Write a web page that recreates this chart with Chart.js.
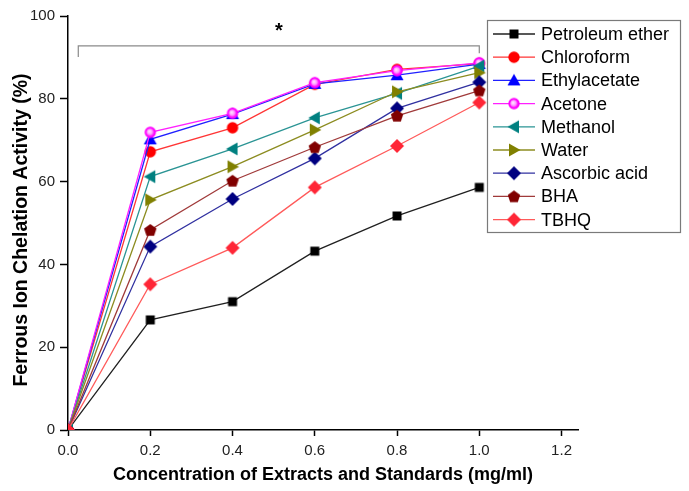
<!DOCTYPE html>
<html>
<head>
<meta charset="utf-8">
<script src="https://cdn.jsdelivr.net/npm/chart.js@4/dist/chart.umd.min.js"></script>
<style>
html, body { margin: 0; padding: 0; background: #fff; }
#wrap { width: 689px; height: 491px; }
</style>
</head>
<body>
<div id="wrap"><canvas id="chart" width="689" height="491"></canvas></div>
<script>
// DATA
const concentrations = [0, 0.2, 0.4, 0.6, 0.8, 1.0];
const seriesNames = ['Petroleum ether', 'Chloroform', 'Ethylacetate', 'Acetone', 'Methanol', 'Water', 'Ascorbic acid', 'BHA', 'TBHQ'];
const petroleumEther = [0, 26.6, 31.0, 43.2, 51.7, 58.6];
const chloroform     = [0, 67.2, 73.0, 83.5, 87.1, 88.5];
const ethylacetate   = [0, 70.2, 76.3, 83.6, 85.7, 88.4];
const acetone        = [0, 71.9, 76.5, 83.9, 86.8, 88.7];
const methanol       = [0, 61.2, 67.9, 75.4, 81.3, 87.9];
const water          = [0, 55.6, 63.6, 72.5, 81.7, 86.3];
const ascorbicAcid   = [0, 44.3, 55.8, 65.6, 77.7, 84.0];
const bha            = [0, 48.3, 60.2, 68.3, 75.9, 82.0];
const tbhq           = [0, 35.2, 44.0, 58.6, 68.6, 79.1];
const seriesValues = [petroleumEther, chloroform, ethylacetate, acetone, methanol, water, ascorbicAcid, bha, tbhq];
const xTickStep = 0.2;
const yTickStep = 20;
const xTitle = 'Concentration of Extracts and Standards (mg/ml)';
const yTitle = 'Ferrous Ion Chelation Activity (%)';

// significance bracket (in data units) and its label
const bracketX = [0.025, 1.0];
const bracketTop = 92.8;
const bracketLeftEnd = 90.1;
const bracketRightEnd = 91.0;
const bracketLabel = '*';

// STYLE
const markerColors = ['#000000', '#ff0000', '#0000ff', '#ff00ff', '#008080', '#808000', '#000080', '#800000', '#ff2636'];
const lineColors   = ['#202020', '#ff3535', '#2020ff', '#ff20ff', '#2a9494', '#8c8c20', '#3030a0', '#a03a3a', '#ff5a5a'];
const markerShapes = ['square', 'circle', 'triangle', 'sphere', 'left', 'right', 'diamond', 'pentagon', 'diamond'];
const FONT = '"Liberation Sans", Arial, sans-serif';

function makeMarker(shape, color) {
    const s = 16, c = document.createElement('canvas');
    c.width = s; c.height = s;
    const g = c.getContext('2d');
    const m = s / 2;
    g.fillStyle = color;
    g.beginPath();
    if (shape === 'square') {
        g.rect(m - 4.5, m - 4.5, 9, 9);
    } else if (shape === 'circle' || shape === 'sphere') {
        g.arc(m, m, 5.7, 0, Math.PI * 2);
    } else if (shape === 'triangle') {
        g.moveTo(m, m - 6.5); g.lineTo(m + 6.5, m + 5); g.lineTo(m - 6.5, m + 5);
    } else if (shape === 'left') {
        g.moveTo(m - 6.5, m); g.lineTo(m + 5, m - 6.5); g.lineTo(m + 5, m + 6.5);
    } else if (shape === 'right') {
        g.moveTo(m + 6.5, m); g.lineTo(m - 5, m - 6.5); g.lineTo(m - 5, m + 6.5);
    } else if (shape === 'diamond') {
        g.moveTo(m, m - 7); g.lineTo(m + 7, m); g.lineTo(m, m + 7); g.lineTo(m - 7, m);
    } else if (shape === 'pentagon') {
        for (let k = 0; k < 5; k++) {
            const a = -Math.PI / 2 + k * 2 * Math.PI / 5;
            const px = m + 6.5 * Math.cos(a), py = m + 6.5 * Math.sin(a) + 0.5;
            if (k === 0) g.moveTo(px, py); else g.lineTo(px, py);
        }
    }
    g.closePath();
    g.fill();
    if (shape === 'sphere') {
        const grad = g.createRadialGradient(m - 1, m - 1, 0.5, m, m, 5);
        grad.addColorStop(0, '#ffe0ff');
        grad.addColorStop(0.5, '#ff90ff');
        grad.addColorStop(1, 'rgba(255,0,255,0)');
        g.fillStyle = grad;
        g.beginPath(); g.arc(m, m, 4, 0, Math.PI * 2); g.fill();
    }
    return c;
}

const markers = markerShapes.map((s, i) => makeMarker(s, markerColors[i]));

const datasets = seriesNames.map((name, i) => ({
    label: name,
    data: concentrations.map((x, j) => ({ x: x, y: seriesValues[i][j] })),
    borderColor: lineColors[i],
    backgroundColor: markerColors[i],
    borderWidth: 1.3,
    pointStyle: markers[i],
    pointRadius: 6,
    showLine: true,
    tension: 0,
    order: seriesNames.length - i
}));

// y title, legend box and significance bracket
const extrasPlugin = {
    id: 'extras',
    afterDraw(chart) {
        const ctx = chart.ctx;
        const xs = chart.scales.x, ys = chart.scales.y;
        ctx.save();

        // y axis title
        ctx.save();
        ctx.translate(21.5, 230);
        ctx.rotate(-Math.PI / 2);
        ctx.fillStyle = '#000';
        ctx.font = 'bold 19.5px ' + FONT;
        ctx.textAlign = 'center';
        ctx.textBaseline = 'middle';
        ctx.fillText(yTitle, 0, 0);
        ctx.restore();

        // bracket
        ctx.strokeStyle = '#8a8a8a';
        ctx.lineWidth = 1.2;
        const x0 = xs.getPixelForValue(bracketX[0]), x1 = xs.getPixelForValue(bracketX[1]);
        const yt = ys.getPixelForValue(bracketTop);
        ctx.beginPath();
        ctx.moveTo(x0, ys.getPixelForValue(bracketLeftEnd));
        ctx.lineTo(x0, yt);
        ctx.lineTo(x1, yt);
        ctx.lineTo(x1, ys.getPixelForValue(bracketRightEnd));
        ctx.stroke();
        ctx.fillStyle = '#000';
        ctx.font = 'bold 20px ' + FONT;
        ctx.textAlign = 'center';
        ctx.textBaseline = 'middle';
        ctx.fillText(bracketLabel, xs.getPixelForValue((bracketX[0] + bracketX[1]) / 2), yt - 14);

        // legend
        const lx = 487, ly = 20, lw = 193, lh = 212, rowH = 23.2;
        ctx.fillStyle = '#fff';
        ctx.fillRect(lx, ly, lw, lh);
        ctx.strokeStyle = '#7a7a7a';
        ctx.lineWidth = 1.2;
        ctx.strokeRect(lx + 0.5, ly + 0.5, lw, lh);
        ctx.font = '18px ' + FONT;
        ctx.textAlign = 'left';
        chart.data.datasets.forEach((ds, i) => {
            const y = ly + 14 + i * rowH;
            ctx.strokeStyle = ds.borderColor;
            ctx.lineWidth = 1.3;
            ctx.beginPath(); ctx.moveTo(lx + 6, y); ctx.lineTo(lx + 48, y); ctx.stroke();
            const mk = ds.pointStyle;
            ctx.drawImage(mk, lx + 27 - mk.width / 2, y - mk.height / 2);
            ctx.fillStyle = '#000';
            ctx.fillText(ds.label, lx + 54, y + 1);
        });
        ctx.restore();
    }
};

new Chart(document.getElementById('chart'), {
    type: 'scatter',
    data: { datasets },
    options: {
        responsive: false,
        animation: false,
        devicePixelRatio: 1,
        layout: { padding: { top: 16, right: 111, left: 0, bottom: 0 } },
        plugins: { legend: { display: false }, tooltip: { enabled: false } },
        scales: {
            x: {
                type: 'linear', min: 0, max: 1.24,
                afterFit: s => { s.height = 61; },
                border: { display: true, color: '#000', width: 1.5 },
                grid: { drawOnChartArea: false, drawTicks: true, tickLength: 6, tickColor: '#000', tickWidth: 1.5 },
                ticks: {
                    stepSize: xTickStep, includeBounds: false, padding: 6,
                    color: '#222', font: { family: FONT, size: 15 },
                    maxRotation: 0, autoSkip: false,
                    callback: v => v.toFixed(1)
                },
                title: {
                    display: true, text: xTitle,
                    color: '#000', font: { family: FONT, size: 18, weight: 'bold' },
                    padding: { top: 5, bottom: 5 }
                }
            },
            y: {
                type: 'linear', min: 0, max: 100,
                afterFit: s => { s.width = 68; },
                border: { display: true, color: '#000', width: 1.5 },
                grid: { drawOnChartArea: false, drawTicks: true, tickLength: 8, tickColor: '#000', tickWidth: 1.5 },
                ticks: {
                    stepSize: yTickStep, padding: 5,
                    color: '#222', font: { family: FONT, size: 15 }
                },
                title: { display: false }
            }
        }
    },
    plugins: [extrasPlugin]
});
</script>
</body>
</html>
